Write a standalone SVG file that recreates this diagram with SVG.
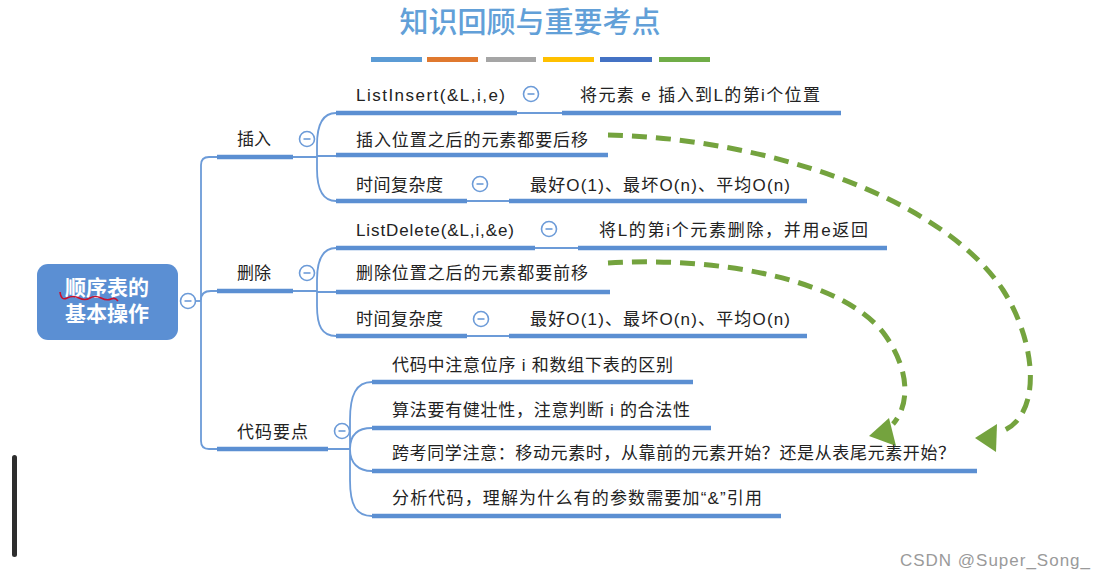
<svg xmlns="http://www.w3.org/2000/svg" width="1104" height="580" viewBox="0 0 1104 580">
<style>
.t{font-family:"Liberation Sans","Noto Sans CJK SC",sans-serif;font-size:17px;fill:#222}
.ul{stroke:#5b8fd2;stroke-width:4.5;fill:none}
.ln{stroke:#6c9bd8;stroke-width:1.8;fill:none}
.ci{fill:#fff;stroke:#6c9bd8;stroke-width:1.6}
.mi{stroke:#6c9bd8;stroke-width:1.6}
.gd{stroke:#74a33e;stroke-width:5;fill:none;stroke-dasharray:15 9}
.ah{fill:#74a33e}
.rt{font-family:"Liberation Sans","Noto Sans CJK SC",sans-serif;font-size:21px;font-weight:bold;fill:#fff}
</style>
<defs>
<g id="col"><circle class="ci" r="7.5"/><line class="mi" x1="-3.5" y1="0" x2="3.5" y2="0"/></g>
</defs>
<rect width="1104" height="580" fill="#fff"/>
<g id="title">
<text x="530" y="33" text-anchor="middle" style="font-family:'Noto Sans CJK SC',sans-serif;font-size:29px;fill:#62a0d8;font-weight:500">知识回顾与重要考点</text>
<rect x="371" y="57" width="51" height="5" fill="#5b9bd5"/>
<rect x="427" y="57" width="51" height="5" fill="#e0792f"/>
<rect x="486" y="57" width="50" height="5" fill="#a5a5a5"/>
<rect x="543" y="57" width="51" height="5" fill="#ffc000"/>
<rect x="600" y="57" width="52" height="5" fill="#4472c4"/>
<rect x="659" y="57" width="51" height="5" fill="#70ad47"/>
</g>
<g id="connectors">
<path class="ln" d="M196 301 H201"/>
<path class="ln" d="M217 157 H209 Q201 157 201 165 V441 Q201 449 209 449 H217"/>
<path class="ln" d="M201 300 Q201 291 211 291 H217"/>
<path class="ln" d="M293 157 H317 M293 291 H317 M328 449 H350"/>
<path class="ln" d="M336 113 C322 113 317 125 317 145 V157 V169 C317 189 322 201 336 201 M317 156 H336"/>
<path class="ln" d="M336 248 C322 248 317 260 317 280 V291 V306 C317 326 322 336 336 336 M317 292 H336"/>
<path class="ln" d="M372 382 C356 382 350 395 350 420 V449 V480 C350 505 356 516 372 516 M372 428 C358 428 350 435 350 449 M372 471 C358 471 350 463 350 449"/>
<path class="ln" d="M517 113 H562 M467 201 H509 M535 248 H578 M467 336 H509"/>
<path class="gd" d="M608 135 C760 138 940 195 1003 290 C1038 345 1042 418 1000 432"/>
<polygon class="ah" points="975,438 997,424 996,452"/>
<path class="gd" d="M608 263 C720 256 845 280 885 335 C910 370 910 405 893 424"/>
<polygon class="ah" points="869,436 889,418 896,446"/>
</g>
<g id="root">
<rect x="37" y="264" width="141" height="76" rx="11" fill="#5b8fd3"/>
<text class="rt" text-anchor="middle"><tspan x="107" y="295">顺序表的</tspan><tspan x="107" y="321">基本操作</tspan></text>
<path d="M60 292 Q61 301 67 298 T79 298 T90 298 T101 298 T111 299 T118 301" fill="none" stroke="#c8102e" stroke-width="1.6"/>
<use href="#col" x="188" y="301"/>
</g>
<g id="n-insert">
<text class="t" x="237" y="145">插入</text>
<line class="ul" x1="217" y1="157" x2="293" y2="157"/>
<use href="#col" x="307" y="139"/>
</g>
<g id="n-listinsert">
<text class="t" x="356" y="101" textLength="149">ListInsert(&amp;L,i,e)</text>
<line class="ul" x1="336" y1="113" x2="517" y2="113"/>
<use href="#col" x="531" y="94"/>
</g>
<g id="n-listinsert-desc">
<text class="t" x="580" y="101" textLength="240">将元素 e 插入到L的第i个位置</text>
<line class="ul" x1="562" y1="113" x2="841" y2="113"/>
</g>
<g id="n-insert-move">
<text class="t" x="356" y="146" textLength="232">插入位置之后的元素都要后移</text>
<line class="ul" x1="336" y1="155" x2="608" y2="155"/>
</g>
<g id="n-insert-time">
<text class="t" x="356" y="191" textLength="87">时间复杂度</text>
<line class="ul" x1="336" y1="201" x2="467" y2="201"/>
<use href="#col" x="480" y="184"/>
</g>
<g id="n-insert-time-desc">
<text class="t" x="530" y="191" textLength="260">最好O(1)、最坏O(n)、平均O(n)</text>
<line class="ul" x1="509" y1="201" x2="807" y2="201"/>
</g>
<g id="n-delete">
<text class="t" x="237" y="279">删除</text>
<line class="ul" x1="217" y1="291" x2="293" y2="291"/>
<use href="#col" x="307" y="273"/>
</g>
<g id="n-listdelete">
<text class="t" x="356" y="236" textLength="158">ListDelete(&amp;L,i,&amp;e)</text>
<line class="ul" x1="336" y1="248" x2="535" y2="248"/>
<use href="#col" x="549" y="229"/>
</g>
<g id="n-listdelete-desc">
<text class="t" x="599" y="236" textLength="269">将L的第i个元素删除，并用e返回</text>
<line class="ul" x1="578" y1="248" x2="887" y2="248"/>
</g>
<g id="n-delete-move">
<text class="t" x="356" y="279" textLength="232">删除位置之后的元素都要前移</text>
<line class="ul" x1="336" y1="292" x2="610" y2="292"/>
</g>
<g id="n-delete-time">
<text class="t" x="356" y="325" textLength="87">时间复杂度</text>
<line class="ul" x1="336" y1="336" x2="467" y2="336"/>
<use href="#col" x="481" y="319"/>
</g>
<g id="n-delete-time-desc">
<text class="t" x="530" y="325" textLength="260">最好O(1)、最坏O(n)、平均O(n)</text>
<line class="ul" x1="509" y1="336" x2="807" y2="336"/>
</g>
<g id="n-code">
<text class="t" x="237" y="438" textLength="71">代码要点</text>
<line class="ul" x1="217" y1="449" x2="328" y2="449"/>
<use href="#col" x="342" y="431"/>
</g>
<g id="n-code1">
<text class="t" x="392" y="371" textLength="281">代码中注意位序 i 和数组下表的区别</text>
<line class="ul" x1="372" y1="382" x2="693" y2="382"/>
</g>
<g id="n-code2">
<text class="t" x="392" y="416" textLength="298">算法要有健壮性，注意判断 i 的合法性</text>
<line class="ul" x1="372" y1="428" x2="711" y2="428"/>
</g>
<g id="n-code3">
<text class="t" x="392" y="459" textLength="563">跨考同学注意：移动元素时，从靠前的元素开始？还是从表尾元素开始？</text>
<line class="ul" x1="372" y1="471" x2="977" y2="471"/>
</g>
<g id="n-code4">
<text class="t" x="392" y="504" textLength="370">分析代码，理解为什么有的参数需要加“&amp;”引用</text>
<line class="ul" x1="372" y1="516" x2="781" y2="516"/>
</g>
<rect x="12" y="455" width="5" height="102" rx="2.5" fill="#2e2e2e"/>
<text x="900" y="566" textLength="190" style="font-family:'Liberation Sans',sans-serif;font-size:17px;fill:#9a9a9a">CSDN @Super_Song_</text>
</svg>
